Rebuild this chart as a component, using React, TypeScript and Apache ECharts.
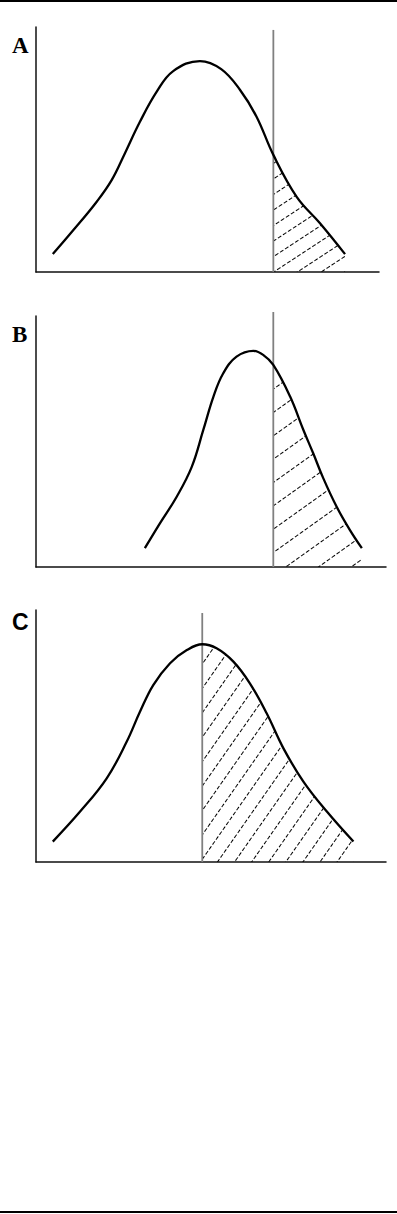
import React, { useEffect, useRef } from "react";
import * as echarts from "echarts";

// Panel labels
const panelLabels: string[] = ["A", "B", "C"];

// Curves (x: % of axis width, y: % of axis height)
const curveA: number[][] = [
  [4.9, 7.3], [10.9, 17.1], [17.7, 28.7], [22.1, 37.6], [25.9, 48.4],
  [30.3, 61.3], [35.2, 73.6], [40.0, 82.0], [47.8, 86.1],
  [54.0, 82.8], [59.5, 74.3], [64.3, 63.4], [69.2, 47.8], [76.0, 30.7],
  [82.8, 19.9], [90.1, 7.3],
];
const curveB: number[][] = [
  [31.1, 7.5], [35.4, 17.4], [40.2, 28.0], [44.5, 39.9], [47.8, 54.6],
  [50.7, 67.9], [53.5, 77.2], [57.3, 83.8], [62.1, 86.1], [64.9, 84.5],
  [67.8, 80.5], [72.6, 67.9], [76.4, 54.6], [79.2, 45.3], [82.1, 35.3],
  [85.9, 24.0], [89.7, 14.7], [93.1, 7.5],
];
const curveC: number[][] = [
  [4.8, 8.1], [12.6, 20.0], [20.2, 33.2], [25.9, 47.7], [29.7, 59.6],
  [33.5, 70.2], [38.3, 78.9], [43.1, 84.1], [47.5, 86.4], [51.6, 84.8],
  [56.4, 79.5], [61.1, 70.9], [65.9, 59.0], [70.7, 45.1], [76.4, 31.9],
  [83.1, 20.0], [90.7, 8.1],
];

// Cut-off positions (vertical lines) and their top ends
const cutoffs: number[] = [69.2, 67.8, 47.5];
const cutoffTops: number[] = [98.8, 101.6, 98.8];

const curves = [curveA, curveB, curveC];

export default function App() {
  const ref = useRef<HTMLDivElement>(null);

  useEffect(() => {
    if (!ref.current) return;
    const chart = echarts.init(ref.current, null, { renderer: "svg" });

    const grids = [
      { left: 36, top: 27, width: 343, height: 245 },
      { left: 36, top: 316, width: 350, height: 251 },
      { left: 36, top: 610, width: 350, height: 252 },
    ];
    const hatchStyle = [
      { rot: -0.58, gap: 12 },
      { rot: -0.62, gap: 18 },
      { rot: -0.96, gap: 13 },
    ];

    const axisBase = {
      type: "value" as const,
      min: 0,
      max: 100,
      axisLine: { show: true, onZero: false, lineStyle: { color: "#111", width: 1.5 } },
      axisTick: { show: false },
      axisLabel: { show: false },
      splitLine: { show: false },
    };

    const series: any[] = [];
    curves.forEach((curve, i) => {
      const tail = curve.filter((p) => p[0] >= cutoffs[i]);
      series.push({
        type: "line",
        xAxisIndex: i,
        yAxisIndex: i,
        data: tail,
        smooth: 0.4,
        symbol: "none",
        silent: true,
        lineStyle: { width: 0, color: "#000" },
        itemStyle: {
          color: "#000",
          decal: {
            symbol: "rect",
            symbolSize: 1,
            color: "#000",
            backgroundColor: "rgba(0,0,0,0)",
            dashArrayX: [4, 2],
            dashArrayY: [1, hatchStyle[i].gap],
            rotation: hatchStyle[i].rot,
          },
        },
        areaStyle: { color: "rgba(255,255,255,0)", opacity: 1 },
        z: 1,
      });
      series.push({
        type: "line",
        xAxisIndex: i,
        yAxisIndex: i,
        data: curve,
        smooth: 0.4,
        symbol: "none",
        silent: true,
        lineStyle: { width: 2.3, color: "#000" },
        z: 3,
      });
      series.push({
        type: "line",
        xAxisIndex: i,
        yAxisIndex: i,
        data: [
          [cutoffs[i], 0],
          [cutoffs[i], cutoffTops[i]],
        ],
        symbol: "none",
        silent: true,
        clip: false,
        lineStyle: { width: 1.8, color: "#808080" },
        z: 2,
      });
    });

    const labelFamilies = [
      "Liberation Serif, Times New Roman, serif",
      "Liberation Serif, Times New Roman, serif",
      "Liberation Sans, Arial, sans-serif",
    ];
    const labelY = [45.5, 334.5, 621.5];

    chart.setOption({
      animation: false,
      backgroundColor: "#fff",
      grid: grids,
      xAxis: grids.map((_, i) => ({ ...axisBase, gridIndex: i })),
      yAxis: grids.map((_, i) => ({ ...axisBase, gridIndex: i })),
      series,
      graphic: [
        { type: "rect", left: 0, top: 0, shape: { x: 0, y: 0, width: 397, height: 2 }, style: { fill: "#000" } },
        { type: "rect", left: 0, top: 1211, shape: { x: 0, y: 0, width: 397, height: 2 }, style: { fill: "#000" } },
        ...panelLabels.map((t, i) => ({
          type: "text",
          x: 12,
          y: labelY[i],
          style: {
            text: t,
            fontSize: 23,
            fontWeight: "bold",
            fontFamily: labelFamilies[i],
            fill: "#000",
            verticalAlign: "middle",
            align: "left",
          },
        })),
      ],
    });

    return () => chart.dispose();
  }, []);

  return (
    <div
      ref={ref}
      style={{ position: "absolute", left: 0, top: 0, width: 397, height: 1214 }}
    />
  );
}
